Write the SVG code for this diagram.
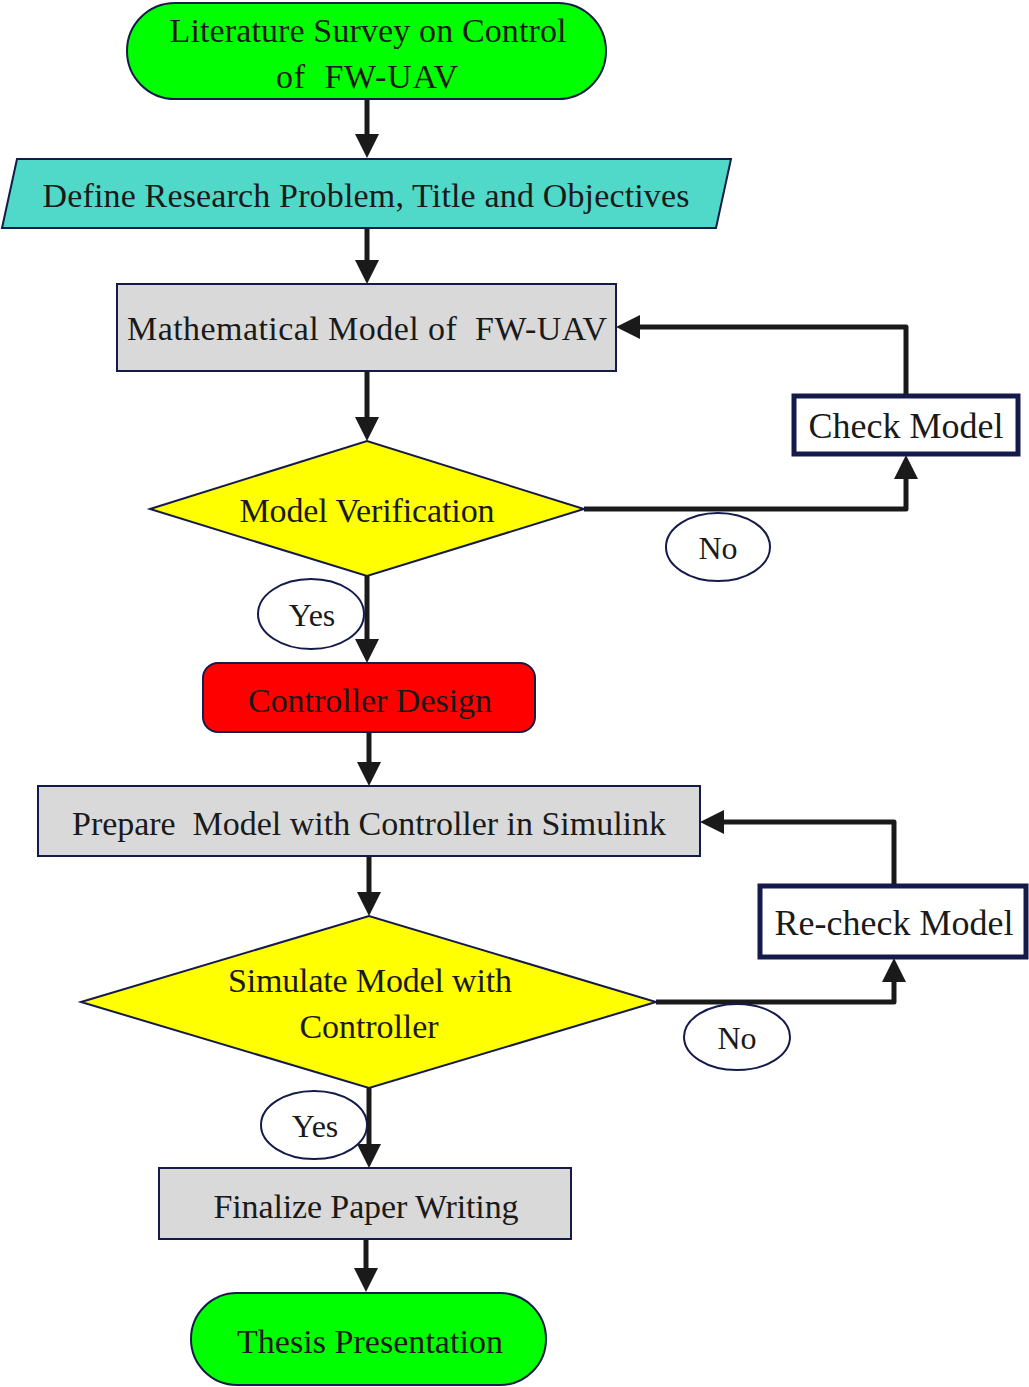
<svg xmlns="http://www.w3.org/2000/svg" width="1029" height="1387" viewBox="0 0 1029 1387">
<defs>
<style>
.node{stroke:#141a4a;stroke-width:2}
.thick{fill:#fff;stroke:#141a4a;stroke-width:5}
.lbl{font-family:"Liberation Serif","Times New Roman",serif;font-size:34px;fill:#1a1a1a;text-anchor:middle}
.sm{font-size:36px}
.yn{font-size:32px}
.conn{fill:none;stroke:#1a1a1a;stroke-width:5;stroke-linejoin:round}
</style>
<marker id="ah" markerUnits="userSpaceOnUse" markerWidth="26" markerHeight="26" refX="2" refY="12" orient="auto">
<path d="M0,0 L24,12 L0,24 z" fill="#1a1a1a"/>
</marker>
</defs>
<rect width="1029" height="1387" fill="#fff"/>

<g id="connectors">
<line class="conn" x1="367" y1="99" x2="367" y2="136" marker-end="url(#ah)"/>
<line class="conn" x1="367" y1="228" x2="367" y2="262" marker-end="url(#ah)"/>
<line class="conn" x1="367" y1="371" x2="367" y2="419" marker-end="url(#ah)"/>
<polyline class="conn" points="584,509 906,509 906,477" marker-end="url(#ah)"/>
<polyline class="conn" points="906,395 906,327 638,327" marker-end="url(#ah)"/>
<line class="conn" x1="367" y1="576" x2="367" y2="641" marker-end="url(#ah)"/>
<line class="conn" x1="369" y1="732" x2="369" y2="764" marker-end="url(#ah)"/>
<line class="conn" x1="369" y1="856" x2="369" y2="894" marker-end="url(#ah)"/>
<polyline class="conn" points="656,1002 894,1002 894,980" marker-end="url(#ah)"/>
<polyline class="conn" points="894,885 894,822 722,822" marker-end="url(#ah)"/>
<line class="conn" x1="369" y1="1088" x2="369" y2="1146" marker-end="url(#ah)"/>
<line class="conn" x1="366" y1="1239" x2="366" y2="1270" marker-end="url(#ah)"/>
</g>

<g id="n-literature">
<rect class="node" x="127" y="3" width="479" height="96" rx="48" fill="#00ff00"/>
<text class="lbl" x="368" y="42" textLength="397">Literature Survey on Control</text>
<text class="lbl" x="367" y="88" textLength="182" xml:space="preserve">of  FW-UAV</text>
</g>

<g id="n-define">
<polygon class="node" points="17,159 731,159 716,228 2,228" fill="#50d8c8"/>
<text class="lbl" x="366" y="207" textLength="647">Define Research Problem, Title and Objectives</text>
</g>

<g id="n-math">
<rect class="node" x="117" y="284" width="499" height="87" fill="#d9d9d9"/>
<text class="lbl" x="367" y="340" textLength="480" xml:space="preserve">Mathematical Model of  FW-UAV</text>
</g>

<g id="n-verify">
<polygon class="node" points="150,509 367,441 584,509 367,576" fill="#ffff00"/>
<text class="lbl" x="367" y="522" textLength="255">Model Verification</text>
</g>

<g id="n-check">
<rect class="thick" x="794" y="396" width="224" height="58"/>
<text class="lbl sm" x="906" y="438">Check Model</text>
</g>

<g id="l-no1">
<ellipse class="node" cx="718" cy="547" rx="52" ry="34" fill="#fff"/>
<text class="lbl yn" x="718" y="559">No</text>
</g>

<g id="l-yes1">
<ellipse class="node" cx="311" cy="614" rx="53" ry="35" fill="#fff"/>
<text class="lbl yn" x="312" y="626">Yes</text>
</g>

<g id="n-controller">
<rect class="node" x="203" y="663" width="332" height="69" rx="15" fill="#ff0000"/>
<text class="lbl" x="370" y="712" textLength="244">Controller Design</text>
</g>

<g id="n-prepare">
<rect class="node" x="38" y="786" width="662" height="70" fill="#d9d9d9"/>
<text class="lbl" x="369" y="835" textLength="594" xml:space="preserve">Prepare  Model with Controller in Simulink</text>
</g>

<g id="n-simulate">
<polygon class="node" points="81,1002 369,916 656,1002 369,1088" fill="#ffff00"/>
<text class="lbl" x="370" y="992" textLength="284">Simulate Model with</text>
<text class="lbl" x="369" y="1038" textLength="139">Controller</text>
</g>

<g id="n-recheck">
<rect class="thick" x="760" y="886" width="266" height="71"/>
<text class="lbl sm" x="894" y="935">Re-check Model</text>
</g>

<g id="l-no2">
<ellipse class="node" cx="737" cy="1037" rx="53" ry="33" fill="#fff"/>
<text class="lbl yn" x="737" y="1049">No</text>
</g>

<g id="l-yes2">
<ellipse class="node" cx="314" cy="1125" rx="53" ry="34" fill="#fff"/>
<text class="lbl yn" x="315" y="1137">Yes</text>
</g>

<g id="n-finalize">
<rect class="node" x="159" y="1168" width="412" height="71" fill="#d9d9d9"/>
<text class="lbl" x="366" y="1218" textLength="305">Finalize Paper Writing</text>
</g>

<g id="n-thesis">
<rect class="node" x="191" y="1293" width="355" height="92" rx="46" fill="#00ff00"/>
<text class="lbl" x="370" y="1353" textLength="266">Thesis Presentation</text>
</g>
</svg>
